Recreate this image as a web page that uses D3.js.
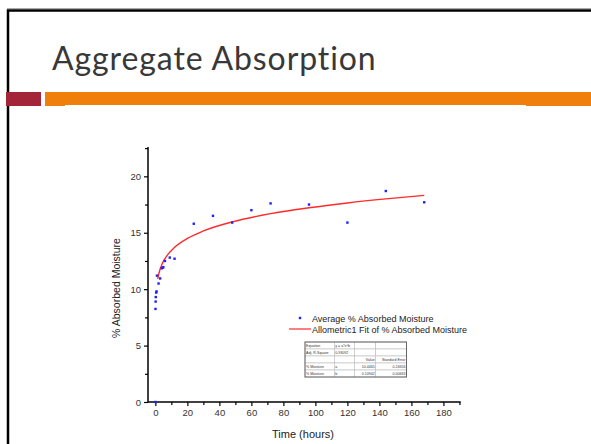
<!DOCTYPE html>
<html>
<head>
<meta charset="utf-8">
<script src="https://cdn.jsdelivr.net/npm/d3@7"></script>
<style>
  body { margin: 0; background: #fff; }
  svg { display: block; }
  .tick-label { font-family: "Liberation Sans", Arial, sans-serif; font-size: 9.5px; fill: #333; }
</style>
</head>
<body>
<svg width="591" height="444"></svg>
<script>
// measured points: time (hours) and % absorbed moisture
var times = [0, 0.08, 0.17, 0.25, 0.5, 0.75, 1, 2, 3, 4, 4.5, 5, 6, 9, 12, 24, 36, 48, 60, 72, 96, 120, 144, 168];
var moisture = [0, 8.25, 8.9, 9.3, 9.7, 9.8, 11.2, 10.5, 10.95, 11.85, 11.9, 11.95, 12.5, 12.8, 12.7, 15.8, 16.5, 15.9, 17.0, 17.6, 17.5, 15.9, 18.7, 17.7];

// allometric fit curve
var fitTimes = [1.5, 2, 3, 4, 5, 8, 12, 20, 30, 48, 72, 96, 120, 144, 168];
var fitValues = [10.92, 11.27, 11.79, 12.16, 12.46, 13.11, 13.71, 14.5, 15.16, 15.96, 16.69, 17.21, 17.64, 18.0, 18.31];

var xTicks = [0, 20, 40, 60, 80, 100, 120, 140, 160, 180];
var xMinor = [10, 30, 50, 70, 90, 110, 130, 150, 170, 190];
var yTicks = [0, 5, 10, 15, 20];
var yMinor = [2.5, 7.5, 12.5, 17.5, 22.5];

// fit parameter table
var tableRows = [
  ["Equation", "y = a*x^b", "", ""],
  ["Adj. R-Square", "0.93092", "", ""],
  ["", "", "Value", "Standard Error"],
  ["% Moisture", "a", "10.4465", "0.24656"],
  ["% Moisture", "b", "0.10942", "0.00663"]
];

var svg = d3.select("svg");

// slide frame
svg.append("line").attr("x1", 7).attr("x2", 591).attr("y1", 8.5).attr("y2", 8.5)
  .attr("stroke", "#aaa").attr("stroke-width", 1);
svg.append("path").attr("d", "M8,444 V10.5 H591")
  .attr("fill", "none").attr("stroke", "#000").attr("stroke-width", 2.5);

// title
svg.append("text").attr("x", 52).attr("y", 70)
  .style("font-family", "Lato, 'Open Sans', sans-serif")
  .style("font-size", "32px")
  .style("letter-spacing", "0.9px")
  .style("fill", "#383838")
  .text("Aggregate Absorption");

// header bars
svg.append("rect").attr("x", 6).attr("y", 92).attr("width", 35).attr("height", 14).attr("fill", "#a32638");
svg.append("rect").attr("x", 45).attr("y", 92).attr("width", 546).attr("height", 14).attr("fill", "#ef7f0a");
svg.append("line").attr("x1", 65).attr("x2", 526).attr("y1", 105.5).attr("y2", 105.5)
  .attr("stroke", "#fff").attr("stroke-width", 1);

// chart
var x = d3.scaleLinear().domain([-4.6, 190.8]).range([148, 460.7]);
var y = d3.scaleLinear().domain([0, 22.6]).range([402, 147]);

var xAxis = svg.append("g").attr("transform", "translate(0,402)");
xAxis.call(d3.axisBottom(x).tickValues(xTicks).tickSize(4).tickPadding(3));
xAxis.append("g").call(d3.axisBottom(x).tickValues(xMinor).tickSize(3).tickFormat(""))
  .select(".domain").remove();
xAxis.select(".domain").attr("d", "M148,0H460.7").attr("stroke-width", 1.5);

var yAxis = svg.append("g").attr("transform", "translate(148,0)");
yAxis.call(d3.axisLeft(y).tickValues(yTicks).tickSize(4).tickPadding(3));
yAxis.append("g").call(d3.axisLeft(y).tickValues(yMinor).tickSize(3).tickFormat(""))
  .select(".domain").remove();
yAxis.select(".domain").attr("d", "M0,402V147").attr("stroke-width", 1.5);

svg.selectAll(".tick text").attr("class", "tick-label").attr("fill", null);
svg.selectAll(".tick line").attr("stroke-width", 1.2);

// axis titles
svg.append("text").attr("x", 303).attr("y", 438).attr("text-anchor", "middle")
  .style("font-family", "Liberation Sans, Arial, sans-serif").style("font-size", "11px").style("fill", "#222")
  .text("Time (hours)");
svg.append("text").attr("transform", "translate(120,288) rotate(-90)").attr("text-anchor", "middle")
  .style("font-family", "Liberation Sans, Arial, sans-serif").style("font-size", "10.5px").style("fill", "#222")
  .text("% Absorbed Moisture");

// fit line
var fitData = fitTimes.map(function(t, i) { return { t: t, v: fitValues[i] }; });
svg.append("path").datum(fitData)
  .attr("fill", "none").attr("stroke", "#ff2a2a").attr("stroke-width", 1.4)
  .attr("d", d3.line().curve(d3.curveMonotoneX)
    .x(function(d) { return x(d.t); })
    .y(function(d) { return y(d.v); }));

// points
var pts = times.map(function(t, i) { return { t: t, v: moisture[i] }; });
svg.selectAll(".pt").data(pts).enter().append("rect")
  .attr("class", "pt")
  .attr("x", function(d) { return x(d.t) - 1.2; })
  .attr("y", function(d) { return y(d.v) - 1.2; })
  .attr("width", 2.4).attr("height", 2.4)
  .attr("fill", "#1f1fff");

// legend
var legFont = "Liberation Sans, Arial, sans-serif";
svg.append("rect").attr("x", 298.8).attr("y", 316.8).attr("width", 2.4).attr("height", 2.4).attr("fill", "#1f1fff");
svg.append("text").attr("x", 312).attr("y", 321.5)
  .style("font-family", legFont).style("font-size", "9px").style("fill", "#222")
  .text("Average % Absorbed Moisture");
svg.append("line").attr("x1", 289).attr("x2", 311).attr("y1", 329).attr("y2", 329)
  .attr("stroke", "#ff2a2a").attr("stroke-width", 1.2);
svg.append("text").attr("x", 312).attr("y", 332.5)
  .style("font-family", legFont).style("font-size", "9px").style("fill", "#222")
  .text("Allometric1 Fit of % Absorbed Moisture");

// parameter table
var colX = [305, 334.3, 354.3, 375.7, 406.5];
var rowY = [342, 349, 356, 363, 370, 377];
var table = svg.append("g");
tableRows.forEach(function(row, r) {
  row.forEach(function(cell, c) {
    table.append("rect")
      .attr("x", colX[c]).attr("y", rowY[r])
      .attr("width", colX[c + 1] - colX[c]).attr("height", rowY[r + 1] - rowY[r])
      .attr("fill", "#fff").attr("stroke", "#bbb").attr("stroke-width", 0.6);
    if (cell) {
      var right = c >= 2;
      table.append("text")
        .attr("x", right ? colX[c + 1] - 1 : colX[c] + 1)
        .attr("y", rowY[r] + 5)
        .attr("text-anchor", right ? "end" : "start")
        .style("font-family", legFont).style("font-size", "3.6px").style("fill", "#333")
        .text(cell);
    }
  });
});
table.append("rect").attr("x", colX[0]).attr("y", rowY[0])
  .attr("width", colX[4] - colX[0]).attr("height", rowY[5] - rowY[0])
  .attr("fill", "none").attr("stroke", "#666").attr("stroke-width", 1);
</script>
</body>
</html>
